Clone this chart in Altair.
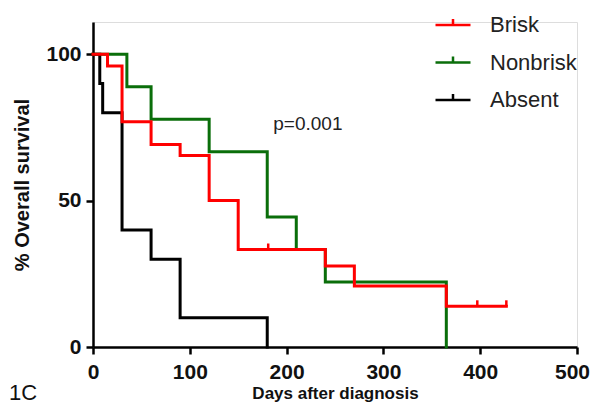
import altair as alt
import pandas as pd

groups = ["Brisk", "Nonbrisk", "Absent"]
colors = ["#ff0000", "#0a6e0a", "#000000"]

brisk_days = [0, 15, 30, 60, 90, 120, 150, 240, 270, 365, 427]
brisk_surv = [100, 96, 76.9, 69.2, 65.4, 50, 33.3, 27.7, 20.8, 13.9, 13.9]

nonbrisk_days = [0, 35, 60, 120, 180, 210, 240, 365]
nonbrisk_surv = [100, 88.9, 77.8, 66.7, 44.4, 33.3, 22.2, 0]

absent_days = [0, 7, 10, 30, 60, 90, 180]
absent_surv = [100, 90, 80, 40, 30, 10, 0]

censor_days = [181, 397, 427]
censor_surv = [33.3, 13.9, 13.9]

p_label = ["p=0.001"]
p_day = [222]
p_surv = [76]

rows = []
for g, d, s in [("Brisk", brisk_days, brisk_surv),
                ("Nonbrisk", nonbrisk_days, nonbrisk_surv),
                ("Absent", absent_days, absent_surv)]:
    for i, (dd, ss) in enumerate(zip(d, s)):
        rows.append({"group": g, "day": dd, "surv": ss, "i": i})
df = pd.DataFrame(rows)
cens = pd.DataFrame({"group": ["Brisk"] * len(censor_days), "day": censor_days, "surv": censor_surv})
ptxt = pd.DataFrame({"label": p_label, "day": p_day, "surv": p_surv})

FONT = "Liberation Sans"

xscale = alt.Scale(domain=[0, 500], nice=False)
yscale = alt.Scale(domain=[0, 111], nice=False)

xaxis = alt.Axis(values=[0, 100, 200, 300, 400, 500], title="Days after diagnosis",
                 labelFontSize=21, labelFontWeight="bold", labelFont=FONT, labelColor="#111",
                 labelPadding=7, tickSize=7, tickWidth=2.5, tickColor="black",
                 domainWidth=2.5, domainColor="black", grid=False,
                 labelOffset=alt.condition("datum.value == 500", alt.value(-5), alt.value(0)),
                 titleFontSize=17, titleFont=FONT, titleFontWeight="bold", titleColor="#111",
                 titlePadding=3, labelFlush=False)
yaxis = alt.Axis(values=[0, 50, 100], title="% Overall survival",
                 labelFontSize=21, labelFontWeight="bold", labelFont=FONT, labelColor="#111",
                 labelPadding=5, tickSize=7, tickWidth=2.5, tickColor="black",
                 domainWidth=2.5, domainColor="black", grid=False,
                 titleFontSize=20, titleFont=FONT, titleFontWeight="bold", titleColor="#111",
                 titlePadding=13)

color = alt.Color("group:N", scale=alt.Scale(domain=groups, range=colors),
                  sort=groups,
                  legend=alt.Legend(orient="none", legendX=341, legendY=-16, title=None,
                                    symbolType="M-1,0H1M0,0V-0.35", symbolSize=1225,
                                    symbolStrokeWidth=2.5, labelFontSize=22, labelFont=FONT,
                                    labelColor="#222", labelOffset=18, rowPadding=7.5))

def curve(g):
    return alt.Chart(df).transform_filter(alt.datum.group == g).mark_line(
        interpolate="step-after", strokeWidth=3, strokeCap="square"
    ).encode(
        x=alt.X("day:Q", scale=xscale, axis=xaxis),
        y=alt.Y("surv:Q", scale=yscale, axis=yaxis),
        color=color,
        order="i:Q",
    )

censor = alt.Chart(cens).mark_point(shape="M0,0V-1", size=144, strokeWidth=2.5,
                                    filled=False, opacity=1, color="#ff0000").encode(
    x=alt.X("day:Q", scale=xscale),
    y=alt.Y("surv:Q", scale=yscale),
)

ptext = alt.Chart(ptxt).mark_text(fontSize=19, font=FONT, color="#222",
                                  align="center", baseline="middle").encode(
    x=alt.X("day:Q", scale=xscale),
    y=alt.Y("surv:Q", scale=yscale),
    text="label:N",
)

panel = alt.Chart(pd.DataFrame({"t": ["1C"]})).mark_text(
    fontSize=22, font=FONT, color="#111", align="left", baseline="bottom"
).encode(x=alt.value(-84), y=alt.value(383), text="t:N")

chart = alt.layer(curve("Nonbrisk"), curve("Absent"), curve("Brisk"), censor, ptext, panel).properties(
    width=484, height=325,
    autosize=alt.AutoSizeParams(type="none"),
    padding={"left": 85, "top": 14, "right": 13, "bottom": 59},
).configure_view(stroke=None).configure(background="white")

chart.save("out.html", embed_options={"renderer": "svg", "actions": False})
